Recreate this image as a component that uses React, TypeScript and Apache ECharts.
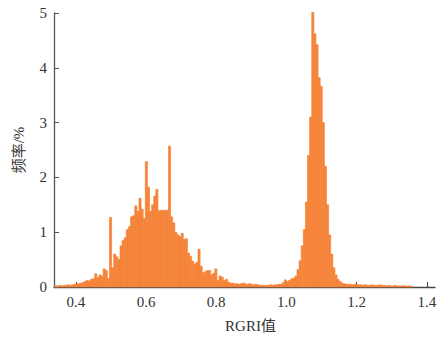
import React, { useEffect, useRef } from "react";
import * as echarts from "echarts";

// Histogram bins: start value and width (RGRI units)
const BIN_START = 0.34;
const BIN_WIDTH = 0.006;

// Frequency (%) per bin, split into regions
const leftTail = [0.02, 0.02, 0.03, 0.02, 0.03, 0.03, 0.04, 0.03, 0.04, 0.05, 0.06, 0.06, 0.07, 0.08, 0.10, 0.12, 0.11, 0.14, 0.15, 0.24, 0.17, 0.22, 0.20, 0.33, 0.30, 0.15];
const leftHump = [1.27, 0.35, 0.6, 0.55, 0.5, 0.75, 0.85, 0.9, 1.05, 1.1, 1.28, 1.3, 1.48, 1.38, 1.62, 1.42, 1.25, 2.29, 1.82, 1.38, 1.5, 1.66, 1.78, 1.39, 1.4, 1.4, 1.4, 1.4, 2.57, 1.28, 1.17, 1.0, 0.95, 0.92, 0.98, 0.87, 0.88, 0.62, 0.56, 0.47, 0.42, 0.45, 0.69, 0.38, 0.26, 0.28, 0.3, 0.3, 0.22, 0.25, 0.33, 0.12, 0.2, 0.18, 0.12, 0.14, 0.09, 0.07];
const valley = [0.07, 0.06, 0.06, 0.05, 0.06, 0.07, 0.06, 0.05, 0.06, 0.05, 0.04, 0.05, 0.04, 0.03, 0.03, 0.03, 0.03, 0.03, 0.04, 0.03, 0.04, 0.04, 0.05, 0.05, 0.08, 0.13, 0.1, 0.12];
const peak = [0.15, 0.16, 0.2, 0.32, 0.48, 0.75, 1.05, 1.55, 2.4, 3.1, 5.01, 4.62, 4.42, 3.82, 3.66, 3.0, 2.2, 1.5, 0.95, 0.6, 0.35, 0.22, 0.14, 0.1, 0.07, 0.06];
const rightTail = [0.05, 0.05, 0.05, 0.04, 0.05, 0.04, 0.04, 0.04, 0.03, 0.04, 0.03, 0.03, 0.04, 0.03, 0.03, 0.03, 0.04, 0.03, 0.03, 0.02, 0.03, 0.02, 0.02, 0.03, 0.02, 0.02, 0.02, 0.02, 0.02, 0.01, 0.02, 0.01];

const xTicks = [0.4, 0.6, 0.8, 1.0, 1.2, 1.4];
const yTicks = [0, 1, 2, 3, 4, 5];

const FONT = "'Liberation Serif', 'Noto Sans CJK SC', serif";
const BAR_COLOR = "#F5843A";

export default function App() {
  const ref = useRef<HTMLDivElement>(null);
  useEffect(() => {
    document.body.style.margin = "0";
    if (!ref.current) return;
    const chart = echarts.init(ref.current, undefined, { renderer: "svg" });
    const freqs = [...leftTail, ...leftHump, ...valley, ...peak, ...rightTail];
    const data = freqs.map((f, i) => [
      BIN_START + i * BIN_WIDTH,
      BIN_START + (i + 1) * BIN_WIDTH,
      f,
    ]);
    chart.setOption({
      animation: false,
      grid: { left: 54, right: 9, top: 13, bottom: 47, containLabel: false },
      xAxis: {
        type: "value",
        min: 0.338,
        max: 1.423,
        name: "RGRI值",
        nameLocation: "middle",
        nameGap: 31,
        nameTextStyle: { fontFamily: FONT, fontSize: 15, color: "#333", padding: [0, 0, 0, 12] },
        axisLine: { show: true, lineStyle: { color: "#444", width: 1.3 } },
        axisTick: { show: true, inside: true, length: 5, customValues: xTicks, lineStyle: { color: "#444" } },
        axisLabel: {
          customValues: xTicks,
          formatter: (v: number) => v.toFixed(1),
          fontFamily: FONT,
          fontSize: 15,
          color: "#333",
          margin: 7,
        },
        splitLine: { show: false },
      },
      yAxis: {
        type: "value",
        min: 0,
        max: 5,
        interval: 1,
        name: "频率/%",
        nameLocation: "middle",
        nameGap: 28,
        nameRotate: 90,
        nameTextStyle: { fontFamily: FONT, fontSize: 15, color: "#333" },
        axisLine: { show: true, lineStyle: { color: "#555", width: 1.3 } },
        axisTick: { show: true, inside: true, length: 5, lineStyle: { color: "#555" } },
        axisLabel: {
          fontFamily: FONT,
          fontSize: 15,
          color: "#333",
          margin: 7,
          formatter: (v: number) => (yTicks.includes(v) ? String(v) : ""),
        },
        splitLine: { show: false },
      },
      series: [
        {
          type: "custom",
          data,
          encode: { x: [0, 1], y: 2 },
          renderItem: (params: any, api: any) => {
            const p0 = api.coord([api.value(0), api.value(2)]);
            const p1 = api.coord([api.value(1), 0]);
            return {
              type: "rect",
              shape: { x: p0[0], y: p0[1], width: p1[0] - p0[0], height: p1[1] - p0[1] },
              style: { fill: BAR_COLOR, stroke: BAR_COLOR, lineWidth: 0.7 },
            };
          },
        },
      ],
    });
    return () => chart.dispose();
  }, []);
  return <div ref={ref} style={{ width: 444, height: 338 }} />;
}
